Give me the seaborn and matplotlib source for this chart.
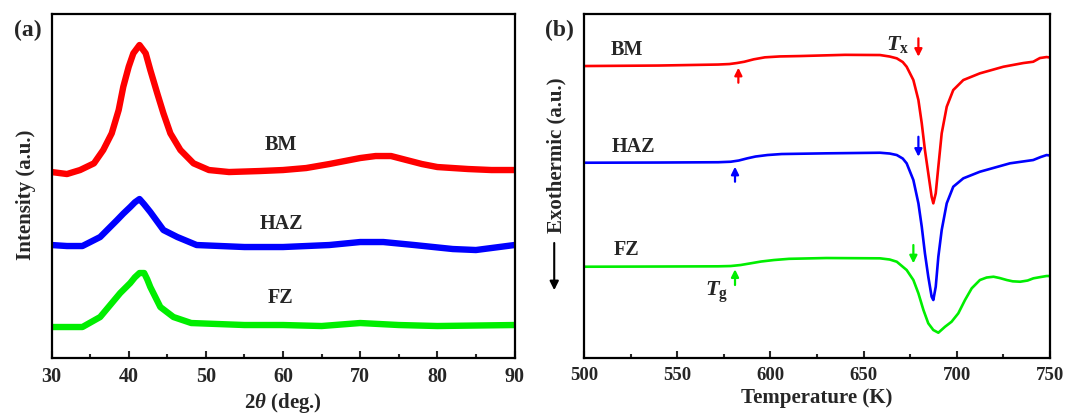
import matplotlib
matplotlib.use("Agg")
import matplotlib.pyplot as plt
import seaborn as sns
import pandas as pd
from matplotlib.ticker import MultipleLocator

# ---------------- data: (a) XRD ----------------
bm_xrd_x = [30, 32, 33.7, 35.5, 36.7, 37.8, 38.7, 39.3, 40.0, 40.6, 41.4, 42.2, 42.8, 43.7, 44.5, 45.4,
            46.7, 48.4, 50.4, 53, 57, 60, 63, 66, 68, 70, 72, 74, 76, 78, 80, 84, 87, 90]
bm_xrd_y = [186.3, 184.3, 188.3, 195.0, 208.3, 225.0, 248.3, 271.6, 291.6, 305.0, 313.3, 305.0, 288.3,
            265.0, 245.0, 225.0, 208.3, 195.0, 188.3, 186.3, 187.3, 188.3, 190.3, 194.3, 197.3, 200.3,
            202.3, 202.3, 198.3, 194.3, 191.3, 189.3, 188.3, 188.3]
haz_xrd_x = [30, 32, 34, 36.3, 38.5, 39.3, 40.2, 40.8, 41.4, 42.0, 42.8, 44.5, 46.3, 48.8, 55, 60, 66, 70,
             73, 77, 82, 85, 90]
haz_xrd_y = [113.3, 112.3, 112.3, 121.3, 138.3, 144.7, 151.3, 156.0, 159.3, 154.0, 146.3, 128.3, 121.3,
             113.3, 111.3, 111.3, 113.3, 116.3, 116.3, 113.3, 109.3, 108.3, 113.3]
fz_xrd_x = [30, 34, 36.3, 38.9, 40.2, 40.8, 41.4, 42.0, 42.4, 42.8, 44.1, 45.8, 48.1, 55, 60, 65, 70, 75,
            80, 90]
fz_xrd_y = [31.3, 31.3, 41.3, 65.3, 75.3, 81.0, 85.3, 85.3, 79.0, 71.3, 51.3, 41.3, 35.3, 33.3, 33.3,
            32.3, 35.3, 33.3, 32.3, 33.3]

# ---------------- data: (b) DSC ----------------
bm_dsc_t = [500, 540, 572, 578, 582, 586, 591, 597, 605, 616, 640, 658.8, 664, 667.8, 671, 673.1, 676.7,
            679.4, 681.2, 682.9, 684.7, 686.5, 687.4, 688.7, 690.1, 691.9, 694.6, 698.1, 703.5, 712.4,
            725, 735.7, 741, 744.6, 748.2, 750]
bm_dsc_y = [292.3, 292.8, 293.8, 294.3, 295.3, 296.6, 299.0, 301.0, 301.9, 302.3, 303.5, 303.3, 301.8,
            300.0, 296.3, 291.6, 278.3, 258.3, 235.0, 208.3, 185.0, 161.6, 155.0, 165.0, 191.6, 225.0,
            251.6, 268.3, 278.3, 285.0, 291.6, 295.3, 296.6, 300.3, 301.3, 300.8]
haz_dsc_t = [500, 540, 572, 578.7, 583, 587.6, 592, 598.4, 606, 630, 658.8, 664, 667.8, 671, 673.1, 676.7,
             679.4, 681.2, 682.9, 684.7, 686.5, 687.4, 688.7, 690.1, 691.9, 694.6, 698.1, 703.5, 712.4,
             728.5, 741, 745, 748.2, 750]
haz_dsc_y = [195.6, 195.8, 196.1, 196.6, 197.8, 200.0, 201.8, 203.3, 204.3, 205.0, 205.6, 204.8, 203.3,
             199.8, 195.0, 178.3, 155.0, 131.6, 105.0, 81.6, 61.6, 58.3, 71.6, 101.6, 128.3, 155.0, 171.6,
             180.0, 186.6, 195.0, 198.3, 201.3, 203.3, 202.8]
fz_dsc_t = [500, 540, 572, 578.7, 584, 589.4, 595, 601.9, 610, 630, 658.8, 664, 667.8, 673.1, 676.7, 679.4,
            682.1, 684.7, 687.4, 690.1, 693.7, 697.2, 700.8, 704.4, 708, 712.4, 716, 719.7, 723, 726.8,
            730, 734, 738, 741.1, 745, 748.2, 750]
fz_dsc_y = [91.6, 91.8, 92.0, 92.3, 93.3, 95.0, 96.8, 98.3, 99.5, 100.3, 100.0, 98.8, 96.6, 88.3, 78.3,
            65.0, 48.3, 35.0, 28.3, 25.6, 31.6, 36.6, 45.0, 58.3, 70.0, 78.3, 80.8, 81.6, 80.3, 78.3,
            77.0, 76.6, 77.8, 80.0, 81.3, 82.3, 82.3]

series_names = ["BM", "HAZ", "FZ"]
colors = ["#ff0000", "#0000ff", "#00ee00"]

# label positions
xrd_label_x = [59.7, 59.8, 59.7]
xrd_label_y = [213, 134, 60]
dsc_label_x = [522.8, 526.4, 522.8]
dsc_label_y = [308.3, 211.6, 108.3]

# Tg / Tx markers: (T, tail, tip)
tg_t = [582.8, 581, 581]
tg_tail = [275.6, 176.6, 73.3]
tg_tip = [290.6, 191.6, 89.0]
tx_t = [679.4, 679.4, 676.7]
tx_tail = [320.0, 221.6, 113.3]
tx_tip = [301.6, 201.6, 95.0]

sns.set_theme(style="white")
plt.rcParams["font.family"] = ["Liberation Serif", "DejaVu Serif"]
plt.rcParams["font.weight"] = "bold"
plt.rcParams["axes.labelweight"] = "bold"
plt.rcParams["mathtext.fontset"] = "custom"
plt.rcParams["mathtext.rm"] = "Liberation Serif:bold"
plt.rcParams["mathtext.it"] = "Liberation Serif:italic:bold"
plt.rcParams["mathtext.bf"] = "Liberation Serif:bold"

fig = plt.figure(figsize=(10.65, 4.13), dpi=100)
ax1 = fig.add_axes([0.0484, 0.1324, 0.4347, 0.8336])
ax2 = fig.add_axes([0.5484, 0.1324, 0.4375, 0.8336])

xrd = [(bm_xrd_x, bm_xrd_y), (haz_xrd_x, haz_xrd_y), (fz_xrd_x, fz_xrd_y)]
for (x, y), c, name in zip(xrd, colors, series_names):
    df = pd.DataFrame({"x": x, "y": y})
    sns.lineplot(data=df, x="x", y="y", ax=ax1, color=c, lw=4.6, estimator=None, sort=False)

dsc = [(bm_dsc_t, bm_dsc_y), (haz_dsc_t, haz_dsc_y), (fz_dsc_t, fz_dsc_y)]
for (x, y), c, name in zip(dsc, colors, series_names):
    df = pd.DataFrame({"x": x, "y": y})
    sns.lineplot(data=df, x="x", y="y", ax=ax2, color=c, lw=1.9, estimator=None, sort=False)

for i, name in enumerate(series_names):
    ax1.text(xrd_label_x[i], xrd_label_y[i], name, ha="center", va="center", fontsize=14.5,
             fontweight="bold")
    ax2.text(dsc_label_x[i], dsc_label_y[i], name, ha="center", va="center", fontsize=14.5,
             fontweight="bold")
    ax2.annotate("", xy=(tg_t[i], tg_tip[i]), xytext=(tg_t[i], tg_tail[i]),
                 arrowprops=dict(arrowstyle="-|>", color=colors[i], lw=1.6, mutation_scale=11,
                                 shrinkA=0, shrinkB=0))
    ax2.annotate("", xy=(tx_t[i], tx_tip[i]), xytext=(tx_t[i], tx_tail[i]),
                 arrowprops=dict(arrowstyle="-|>", color=colors[i], lw=1.6, mutation_scale=11,
                                 shrinkA=0, shrinkB=0))

ax2.text(668.5, 314, r"$\mathit{T}_{\mathrm{x}}$", ha="center", va="center", fontsize=16)
ax2.text(571, 66, r"$\mathit{T}_{\mathrm{g}}$", ha="center", va="center", fontsize=16)

for ax, xlim, maj, mino, fs in [(ax1, (30, 90), 10, 5, 14.5), (ax2, (500, 750), 50, 25, 13.5)]:
    ax.set_xlim(*xlim)
    ax.set_ylim(0, 344.3)
    ax.xaxis.set_major_locator(MultipleLocator(maj))
    ax.xaxis.set_minor_locator(MultipleLocator(mino))
    ax.set_yticks([])
    ax.tick_params(axis="x", which="major", direction="in", length=5, width=1.5, pad=6, labelsize=fs,
                   bottom=True)
    ax.tick_params(axis="x", which="minor", direction="in", length=3, width=1.5, bottom=True)
    for lab in ax.get_xticklabels():
        lab.set_fontweight("bold")
    for sp in ax.spines.values():
        sp.set_linewidth(1.6)
        sp.set_color("black")
        sp.set_visible(True)

ax1.set_xlabel(r"2$\mathit{\theta}$ (deg.)", fontsize=15, fontweight="bold", labelpad=3)
ax2.set_xlabel("Temperature (K)", fontsize=15, fontweight="bold", labelpad=3)
ax1.set_ylabel("Intensity (a.u.)", fontsize=15, fontweight="bold")
ax2.set_ylabel("Exothermic (a.u.)", fontsize=15, fontweight="bold")
for ax, cx, cy in [(ax1, -0.055, 0.474), (ax2, -0.060, 0.590)]:
    ax.yaxis.label.set_va("center")
    ax.yaxis.set_label_coords(cx, cy)

ax2.annotate("", xy=(-0.064, 0.198), xytext=(-0.064, 0.335), xycoords="axes fraction",
             textcoords="axes fraction", annotation_clip=False,
             arrowprops=dict(arrowstyle="-|>", color="black", lw=1.5, mutation_scale=13,
                             shrinkA=0, shrinkB=0))

fig.text(27.5 / 1065, 1 - 30 / 413, "(a)", ha="center", va="center", fontsize=17, fontweight="bold")
fig.text(559 / 1065, 1 - 30 / 413, "(b)", ha="center", va="center", fontsize=17, fontweight="bold")

fig.savefig("out.png", dpi=100)
